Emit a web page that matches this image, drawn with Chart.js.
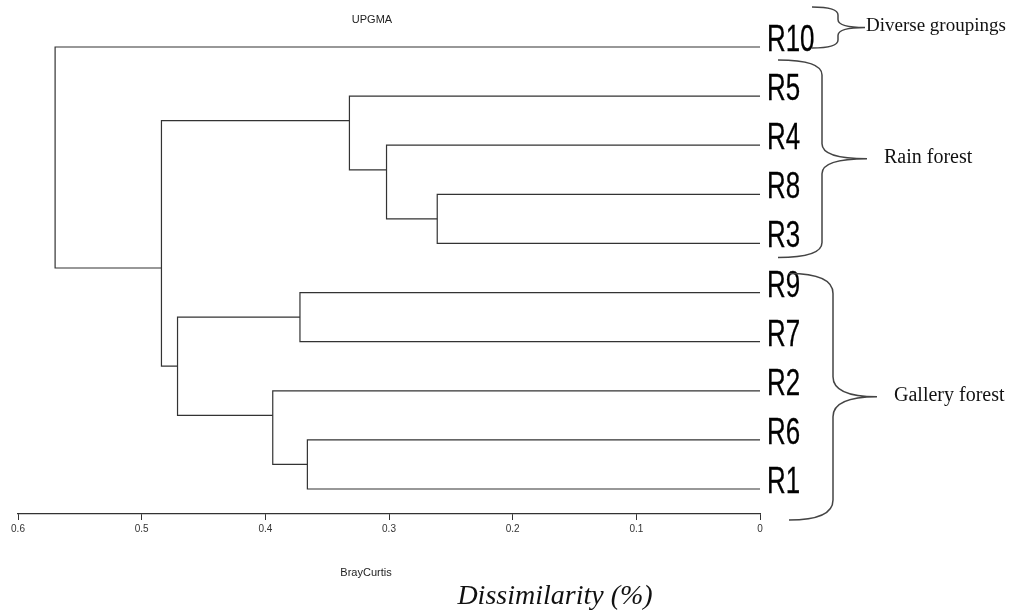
<!DOCTYPE html>
<html>
<head>
<meta charset="utf-8">
<script src="https://cdn.jsdelivr.net/npm/chart.js@4"></script>
<style>
  body { margin: 0; background: #fff; }
  #wrap { width: 1011px; height: 613px; }
</style>
</head>
<body>
<div id="wrap"><canvas id="dendro"></canvas></div>
<script>
// leaves from top to bottom
const leafLabels = ['R10', 'R5', 'R4', 'R8', 'R3', 'R9', 'R7', 'R2', 'R6', 'R1'];

// merges n1..n9: children, Bray-Curtis height, vertical position (in leaf units)
const mergeLeft = ['R8', 'R4', 'R5', 'R6', 'R9', 'R2', 'n5', 'n3', 'R10'];
const mergeRight = ['R3', 'n1', 'n2', 'R1', 'R7', 'n4', 'n6', 'n7', 'n8'];
const mergeHeight = [0.261, 0.302, 0.332, 0.366, 0.372, 0.394, 0.471, 0.484, 0.570];
const mergeY = [3.5, 2.5, 1.5, 8.5, 5.5, 7.5, 6.5, 4.5, 4.5];

const xTicks = [0.6, 0.5, 0.4, 0.3, 0.2, 0.1, 0];

// groups shown with braces on the right: first leaf, last leaf, text
const groupNames = ['Diverse groupings', 'Rain forest', 'Gallery forest'];
const groupFirst = ['R10', 'R5', 'R9'];
const groupLast = ['R10', 'R3', 'R1'];

function nodePos(name) {
  if (name[0] === 'n') {
    const k = parseInt(name.slice(1)) - 1;
    return { x: mergeHeight[k], y: mergeY[k] };
  }
  return { x: 0, y: leafLabels.indexOf(name) };
}

const datasets = mergeHeight.map((h, k) => {
  const a = nodePos(mergeLeft[k]);
  const b = nodePos(mergeRight[k]);
  return {
    data: [
      { x: a.x, y: a.y },
      { x: h, y: a.y },
      { x: h, y: b.y },
      { x: b.x, y: b.y }
    ],
    showLine: true,
    borderColor: '#333',
    borderWidth: 1.2,
    pointRadius: 0,
    tension: 0,
    fill: false
  };
});

function brace(ctx, x0, yTop, yBot, xm, xTip, yTip, r) {
  ctx.beginPath();
  ctx.moveTo(x0, yTop);
  ctx.quadraticCurveTo(xm, yTop, xm, yTop + r);
  ctx.lineTo(xm, yTip - r);
  ctx.quadraticCurveTo(xm, yTip, xTip, yTip);
  ctx.quadraticCurveTo(xm, yTip, xm, yTip + r);
  ctx.lineTo(xm, yBot - r);
  ctx.quadraticCurveTo(xm, yBot, x0, yBot);
  ctx.stroke();
}

const decorations = {
  id: 'decorations',
  afterDatasetsDraw(chart) {
    const ctx = chart.ctx;
    const xs = chart.scales.x;
    const ys = chart.scales.y;
    const x0 = xs.getPixelForValue(0);
    ctx.save();

    // leaf labels (condensed, tall)
    ctx.fillStyle = '#000';
    ctx.strokeStyle = '#000';
    ctx.lineWidth = 0.3;
    ctx.textBaseline = 'alphabetic';
    ctx.textAlign = 'left';
    ctx.font = '37px "Liberation Sans", Arial, sans-serif';
    leafLabels.forEach((lab, i) => {
      const y = ys.getPixelForValue(i);
      ctx.save();
      ctx.translate(x0 + 7, y + 4);
      ctx.scale(0.7, 1);
      ctx.fillText(lab, 0, 0);
      ctx.strokeText(lab, 0, 0);
      ctx.restore();
    });

    // braces
    ctx.strokeStyle = '#444';
    ctx.lineWidth = 1.5;
    const braceSpec = [
      { x0: 812, xm: 838, xTip: 865, r: 8, pad: [-40, 1], size: 19 },
      { x0: 778, xm: 822, xTip: 867, r: 15, pad: [-36, 14], size: 20 },
      { x0: 789, xm: 833, xTip: 877, r: 20, pad: [-19, 31], size: 20 }
    ];
    groupNames.forEach((g, k) => {
      const s = braceSpec[k];
      const yTop = ys.getPixelForValue(leafLabels.indexOf(groupFirst[k])) + s.pad[0];
      const yBot = ys.getPixelForValue(leafLabels.indexOf(groupLast[k])) + s.pad[1];
      const yTip = (yTop + yBot) / 2;
      brace(ctx, s.x0, yTop, yBot, s.xm, s.xTip, yTip, Math.min(s.r, (yTip - yTop) / 2));
      ctx.fillStyle = '#111';
      ctx.font = s.size + 'px "Liberation Serif", "DejaVu Serif", serif';
      ctx.textBaseline = 'middle';
      ctx.fillText(g, s.xTip + (k === 0 ? 1 : 17), yTip - 1);
    });

    // titles
    ctx.fillStyle = '#222';
    ctx.textAlign = 'center';
    ctx.textBaseline = 'middle';
    ctx.font = '11px "Liberation Sans Narrow", "Liberation Sans", sans-serif';
    ctx.fillText('UPGMA', 372, 20);
    ctx.fillText('BrayCurtis', 366, 573);
    ctx.fillStyle = '#111';
    ctx.font = 'italic 28px "Liberation Serif", "DejaVu Serif", serif';
    ctx.fillText('Dissimilarity (%)', 555, 597);
    ctx.restore();
  }
};

new Chart(document.getElementById('dendro'), {
  type: 'scatter',
  data: { datasets: datasets },
  options: {
    responsive: true,
    maintainAspectRatio: false,
    animation: false,
    layout: { padding: { left: 18, right: 251, top: 0, bottom: 0 } },
    plugins: {
      legend: { display: false },
      tooltip: { enabled: false },
      title: { display: false }
    },
    scales: {
      x: {
        type: 'linear',
        reverse: true,
        min: 0,
        max: 0.6,
        afterFit: (scale) => { scale.height = 99; },
        afterBuildTicks: (scale) => { scale.ticks = xTicks.map(v => ({ value: v })); },
        grid: { drawOnChartArea: false, drawTicks: true, tickLength: 6, color: '#333' },
        border: { display: true, color: '#333', width: 1.2 },
        ticks: {
          padding: 3,
          color: '#333',
          maxRotation: 0,
          font: { family: '"Liberation Sans Narrow", "Liberation Sans", sans-serif', size: 10 },
          callback: (v) => String(Math.round(v * 10) / 10)
        }
      },
      y: {
        type: 'linear',
        display: false,
        reverse: true,
        min: -0.957,
        max: 9.509
      }
    }
  },
  plugins: [decorations]
});
</script>
</body>
</html>
